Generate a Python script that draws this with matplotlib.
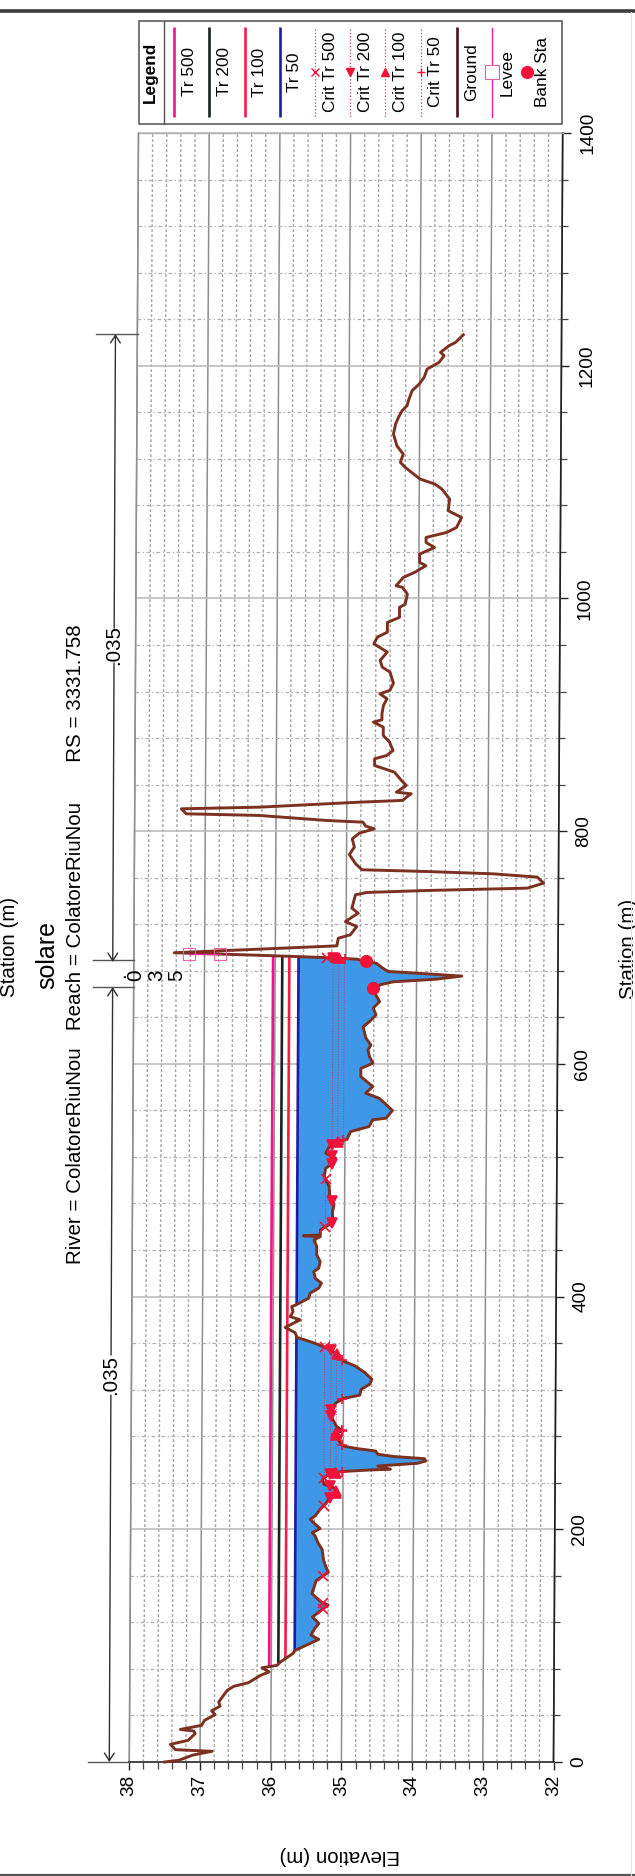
import numpy as np
import matplotlib
matplotlib.use("Agg")
import matplotlib.pyplot as plt
from matplotlib.ticker import MultipleLocator
from matplotlib.transforms import Affine2D
from matplotlib.patches import Rectangle

plt.rcParams['font.family'] = ['Liberation Sans', 'DejaVu Sans']

# ---------- data ----------
ground_points = [
 (0,37.5),(1.5,37.3),(6,37.1),(9.2,36.83),(10.6,37.35),(15.2,37.42),(18.6,37.17),(24.4,37.07),(26.6,37.09),(28,37.28),
 (31.5,36.98),(35.8,36.94),(40.7,36.79),(44,36.84),(48,36.72),(51.6,36.74),(61.6,36.62),(65,36.53),(68.2,36.32),(74.5,36.15),
 (77.4,36.03),(81,36.13),(83,35.92),(86,35.87),(93,35.7),(96,35.66),(105.4,35.33),(109,35.44),(114.6,35.39),(119,35.33),
 (124.6,35.42),(129,35.33),(135,35.2),(137.5,35.3),(144.7,35.43),(156,35.37),(163,35.2),(170,35.25),
 (174.2,35.27),(182.8,35.29),(188.5,35.35),(194.3,35.39),(197.1,35.43),(200.6,35.32),(204.3,35.39),(208.6,35.46),(211.5,35.39),
 (217.2,35.32),(221.5,35.25),(225.8,35.2),(231.5,35.09),(235.8,35.13),(238.7,35.27),(243,35.29),(247.3,35.2),(249.6,35.03),
 (251,34.61),(251.6,34.33),(254.4,34.51),(256.7,33.95),(258.7,33.83),(260.7,33.85),(262.5,34.28),(264.5,34.51),(267.3,34.54),
 (269.3,34.8),(271.6,35.01),(275.9,35.06),(280.2,35.03),(281.7,35.15),(284.5,35.01),(288.8,35.1),(294.6,35.15),(298.9,35.2),
 (304.6,35.17),(308.9,35.1),(312.6,34.99),(315.2,34.77),(320.3,34.75),(324.6,34.63),(328.9,34.6),(334.7,34.7),(340.4,34.84),
 (344.7,35.01),(349,35.06),(354.7,35.2),(359.9,35.41),(362.8,35.55),(364.8,35.66),(369,35.69),(373.5,35.83),
 (380,35.62),(382.8,35.76),(387,35.72),(391.4,35.74),(392.8,35.68),(398.6,35.5),(402.9,35.48),(407.2,35.36),(411.5,35.32),
 (415.8,35.41),(421.5,35.43),(424.4,35.36),(430,35.34),(435.8,35.39),(443,35.39),(448.7,35.43),(451.5,35.34),(452.2,35.58),
 (453,35.34),(457.3,35.34),(461.6,35.22),(464.5,35.15),(468.8,35.17),(473,35.17),(478.8,35.15),(486,35.21),(494.6,35.22),
 (503.2,35.29),(510.3,35.27),(514.6,35.17),(518.9,35.13),(523.2,35.27),(528.9,35.22),(533.2,35.08),(535.2,34.97),(541.8,34.92),
 (546.1,34.66),(551.9,34.61),(553.3,34.42),(559.9,34.33),(566.2,34.44),(570.5,34.52),(574.8,34.71),(580.5,34.61),(589,34.78),
 (596,34.78),(600.6,34.61),(606.3,34.66),(612,34.68),(616.3,34.64),(622,34.71),(626.4,34.73),(632,34.75),(636.4,34.66),
 (642.1,34.57),(647.9,34.61),(653.6,34.52),(660.7,34.59),(667.9,34.52),(670.5,34.33),(672.8,33.72),(675.4,33.36),(677.4,33.86),
 (679.4,34.4),(682.3,34.48),(686.5,34.57),(688,34.71),(690,34.85),(691.4,35.32),(692.3,35.75),(693.3,36.22),(695.5,37.43),
 (701.4,35.13),(708,35.11),(710.9,34.94),(718,34.85),(722.3,35.01),(726,34.92),(729.5,34.83),(733.8,34.92),(745.3,34.87),
 (747.3,34.71),(749,33.86),(751,32.44),(755.3,32.21),(760.5,32.3),(763.3,32.92),(765.3,33.86),(766.8,34.78),(771.9,34.87),
 (779.9,34.96),(786.2,34.89),(793.4,34.92),(798.3,34.82),(802,34.61),(804.3,34.73),(807.7,34.77),(809.2,35.29),(813.5,36.24),
 (814.9,37.27),(819.2,37.34),(820.6,36.24),(824.9,34.82),(826.4,34.21),(830,34.14),(832.1,34.09),(833.5,34.3),(839.3,34.16),
 (843.6,34.23),(850.7,34.33),(854.4,34.51),(856.4,34.61),(862.2,34.61),(865,34.44),(869.3,34.35),(876.5,34.4),(882.2,34.49),
 (889.4,34.49),(893.7,34.63),(895.7,34.51),(900.9,34.51),(908,34.49),(913.8,34.44),(918,34.54),(921,34.4),(927.2,34.35),
 (936.7,34.4),(941,34.51),(946.7,34.54),(953.9,34.44),(961,34.63),(966.8,34.58),(971,34.44),(979.4,34.44),(983.7,34.27),
 (992.3,34.27),(995.1,34.19),(1003.7,34.16),(1009.5,34.23),(1010.9,34.32),(1018,34.22),(1022.4,34.06),(1028.1,33.9),(1031,33.99),
 (1038.1,33.99),(1043.8,33.78),(1048.1,33.9),(1052.4,33.9),(1056.7,33.61),(1061,33.47),(1069.6,33.4),(1075.4,33.59),(1085.4,33.57),
 (1094,33.68),(1098.3,33.78),(1102.6,33.99),(1106.9,34.08),(1112.6,34.2),(1117,34.27),(1124,34.23),(1131.2,34.32),(1141.3,34.37),
 (1149.9,34.34),(1155.6,34.3),(1161.3,34.25),(1165.6,34.18),(1170,34.16),(1178.5,34.11),(1184.2,34.01),(1190,33.94),(1197,33.9),
 (1202.9,33.73),(1208.6,33.66),(1211.5,33.71),(1217.2,33.59),(1220,33.5),(1226.6,33.39)]
station = np.array([p[0] for p in ground_points], float)
ground = np.array([p[1] for p in ground_points], float)

wse_names = ['Tr 500', 'Tr 200', 'Tr 100', 'Tr 50']
wse_levels = [36.03, 35.90, 35.80, 35.67]
wse_colors = ['#f0148c', '#18241c', '#f41c48', '#1c1ca4']

crit_names = ['Crit Tr 500', 'Crit Tr 200', 'Crit Tr 100', 'Crit Tr 50']
crit_levels = [35.27, 35.18, 35.10, 35.02]
crit_markers = ['x', 'v', '^', '+']

levee_station = [694.4, 694.4]
levee_elev = [37.22, 36.78]
bank_station = [665.6, 688.5]
bank_elev = [34.61, 34.72]
channel_end = 693.0

title = 'River = ColatoreRiuNou   Reach = ColatoreRiuNou       RS = 3331.758'
RED = '#f01238'
FS = 14.8
W, H = 635, 1876

def wet_spans(level):
    """Stations where the ground lies under a level, up to the channel end."""
    d = ground - level
    cross = []
    for i in range(len(d) - 1):
        if d[i] * d[i + 1] < 0:
            cross.append(station[i] + (station[i + 1] - station[i]) * d[i] / (d[i] - d[i + 1]))
    cross = [c for c in cross if c <= channel_end]
    spans, prev = [], None
    for c in cross:
        if np.interp(c + 0.01, station, d) < 0:
            prev = c
        elif prev is not None:
            spans.append((prev, c)); prev = None
    return spans, cross

# ---------- axes ----------
fig = plt.figure(figsize=(W / 100, H / 100), dpi=100, facecolor='white')
L, R, T, B = 129.3, 553.5, 133.0, 1762.0
ax = fig.add_axes([L / W, 1 - B / H, (R - L) / W, (B - T) / H])
ax.set_xlim(38, 32)
ax.set_ylim(0, 1400)
ax.set_axisbelow(True)

ax.xaxis.set_major_locator(MultipleLocator(1))
ax.xaxis.set_minor_locator(MultipleLocator(0.2))
ax.yaxis.set_major_locator(MultipleLocator(200))
ax.yaxis.set_minor_locator(MultipleLocator(40))
ax.yaxis.tick_right()
ax.tick_params(axis='x', which='major', labelsize=13.7, labelrotation=90, length=6, width=1.0, pad=3, color='#222222')
ax.tick_params(axis='x', which='minor', length=5, width=0.9, color='#444444')
ax.tick_params(axis='y', which='major', labelsize=13.7, labelrotation=90, length=6, width=1.0, pad=6, color='#222222')
ax.tick_params(axis='y', which='minor', length=4, width=0.9, color='#444444')
for lab in ax.get_yticklabels():
    lab.set_va('center')
ax.grid(True, which='major', axis='x', color='#8e8e8e', lw=1.1)
ax.grid(True, which='major', axis='y', color='#bcbcbc', lw=1.2)
ax.grid(True, which='minor', axis='x', color='#a2a2a2', lw=1.0, ls=(0, (2, 1.6)))
ax.grid(True, which='minor', axis='y', color='#b0b0b0', lw=0.9, ls=(0, (3, 2, 1, 2)))
for side, col, lw in [('left', '#909090', 1.0), ('top', '#b0b0b0', 1.0), ('right', '#202020', 1.2), ('bottom', '#303030', 1.2)]:
    ax.spines[side].set_color(col)
    ax.spines[side].set_linewidth(lw)

# water
in_channel = station <= channel_end
level50 = wse_levels[3]
ax.fill_betweenx(station[in_channel], ground[in_channel], level50,
                 where=ground[in_channel] < level50, interpolate=True,
                 color='#3f97e8', lw=0, zorder=2)

for name, lev, col in zip(wse_names, wse_levels, wse_colors):
    spans, _ = wet_spans(lev)
    for i, (a, b) in enumerate(spans):
        ax.plot([lev, lev], [a, b], color=col, lw=1.9, zorder=3, solid_capstyle='butt',
                label=name if i == 0 else None)

for name, lev, mk in zip(crit_names, crit_levels, crit_markers):
    spans, cross = wet_spans(lev)
    for a, b in spans:
        ax.plot([lev, lev], [a, b], color='#d03a5a', lw=0.7, ls=':', zorder=3)
    ax.plot([lev] * len(cross), cross, ls='none', marker=mk, ms=6.5, color=RED, mew=1.2, zorder=5, label=name)

ax.plot(ground, station, color='#7c3020', lw=2.1, zorder=4, solid_joinstyle='round', label='Ground')
ax.plot(levee_elev, levee_station, color='#f0209c', lw=0.9, marker='s', ms=8, mfc='none', mec='#f060a8', mew=0.8, zorder=5, label='Levee')
ax.plot(bank_elev, bank_station, ls='none', marker='o', ms=9.5, color=RED, mew=0, zorder=6, label='Bank Sta')

ax.set_xlabel('Elevation (m)', fontsize=FS, rotation=180, ha='center', va='center')
ax.xaxis.set_label_coords((339.5 - L) / (R - L), -(1855 - B) / (B - T))
ax.set_ylabel('Station (m)', fontsize=FS, rotation=90, ha='center', va='center')
ax.yaxis.set_label_position('right')
ax.yaxis.set_label_coords((619 - L) / (R - L), (B - 949) / (B - T))

# scan shear: the sheet was fed slightly crooked
k = 9.2 / 1629.0
Y0 = H - B
shear = Affine2D(np.array([[1, k, -k * Y0], [0, 1, 0], [0, 0, 1]], float))
fig.canvas.draw()
parts = list(ax.lines) + list(ax.collections)
for axis in (ax.xaxis, ax.yaxis):
    for t in axis.get_major_ticks() + axis.get_minor_ticks():
        parts += [t.gridline, t.tick1line, t.tick2line, t.label1, t.label2]
parts += list(ax.spines.values())
for a in parts:
    a.set_transform(a.get_transform() + shear)
    a.set_clip_on(False)

# ---------- overlay in page pixels: scan furniture, header, legend ----------
ov = fig.add_axes([0, 0, 1, 1], zorder=10)
ov.set_xlim(0, W)
ov.set_ylim(H, 0)
ov.axis('off')
ov.patch.set_alpha(0)

ov.plot([0, W], [11.5, 11.5], color='#3c3c3c', lw=2.6)
ov.plot([0, W], [1875, 1875], color='#555555', lw=1.6)
ov.plot([631, 631], [12, 1875], color='#e2e2e2', lw=0.8)

txt = dict(rotation=90, ha='center', va='center')
ov.text(10, 947, 'Station (m)', fontsize=FS, **txt)
ov.text(47, 955, 'solare', fontsize=18, **txt)
ov.text(76, 944.5, title, fontsize=FS, **txt)

# Manning's n band
def band_x(y):
    return 109.3 + (B - y) * 0.0043

def arrow(y_from, y_to):
    ov.annotate('', xy=(band_x(y_to), y_to), xytext=(band_x(y_from), y_from),
                arrowprops=dict(arrowstyle='->,head_length=0.55,head_width=0.35', color='#303030', lw=1.0,
                                shrinkA=0, shrinkB=0))

arrow(1395, 1762); arrow(1355, 987); arrow(663, 962); arrow(628, 334)
for y, x0, x1 in [(1762, 88, 129), (987, 93, 134), (960, 93, 134), (334, 96, 138)]:
    ov.plot([x0, x1], [y, y], color='#555555', lw=1.0)
ov.text(band_x(1375), 1375, '.035', fontsize=FS, **txt)
ov.text(band_x(645), 645, '.035', fontsize=FS, **txt)
for ch, x in zip(['.', '0', '3', '5'], [120, 136, 157, 177]):
    ov.text(x, 975, ch, fontsize=FS, **txt)

# legend
ov.add_patch(Rectangle((138.5, 20.7), 423.5, 103.3, fc='white', ec='#505050', lw=1.1))
ov.plot([163.6, 163.6], [20.7, 124], color='#505050', lw=1.0)
ov.text(150, 72, 'Legend', fontsize=12.4, fontweight='bold', **txt)
line_x = [174, 209.3, 245, 280.2, 315, 350.2, 385.4, 421, 456.7, 492.3]
text_x = [189, 224.7, 259.5, 294.7, 330.8, 365.6, 400.8, 436, 471.7, 507.3, 542.5]
names = wse_names + crit_names + ['Ground', 'Levee', 'Bank Sta']
for x, n in zip(text_x, names):
    ov.text(x, 72, n, fontsize=12.4, **txt)
for x, c in zip(line_x[:4], wse_colors):
    ov.plot([x, x], [27, 117], color=c, lw=1.9, solid_capstyle='butt')
for x, mk in zip(line_x[4:8], crit_markers):
    ov.plot([x, x], [29, 117], color='#d03a5a', lw=0.9, ls=':')
    ov.plot([x], [72], marker=mk, ms=6, color=RED, mew=1.0, ls='none')
ov.plot([line_x[8]] * 2, [27, 117], color='#4c1418', lw=1.9, solid_capstyle='butt')
ov.plot([line_x[9]] * 2, [28, 117], color='#f0209c', lw=1.0)
ov.plot([line_x[9]], [72], marker='s', ms=10, mfc='white', mec='#e860a0', mew=0.8, ls='none')
ov.plot([527], [72], marker='o', ms=9.5, color=RED, mew=0, ls='none')

fig.savefig('out.png', dpi=100)
